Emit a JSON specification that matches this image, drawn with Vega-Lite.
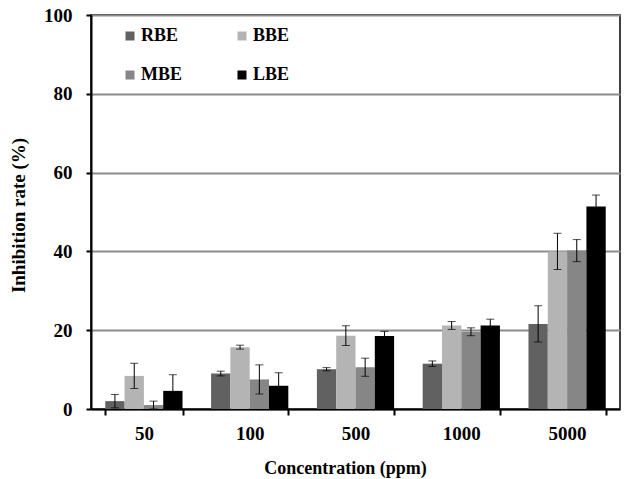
{
  "$schema": "https://vega.github.io/schema/vega-lite/v6.json",
  "autosize": {"type": "none"},
  "width": 529,
  "height": 394,
  "padding": {"left": 91, "top": 15, "right": 6, "bottom": 70},
  "background": "white",
  "data": {
    "values": [
      {"conc": "50", "extract": "RBE", "value": 2.0, "err": 1.7},
      {"conc": "50", "extract": "BBE", "value": 8.4, "err": 3.2},
      {"conc": "50", "extract": "MBE", "value": 1.0, "err": 1.0},
      {"conc": "50", "extract": "LBE", "value": 4.6, "err": 4.1},
      {"conc": "100", "extract": "RBE", "value": 9.0, "err": 0.6},
      {"conc": "100", "extract": "BBE", "value": 15.7, "err": 0.5},
      {"conc": "100", "extract": "MBE", "value": 7.5, "err": 3.7},
      {"conc": "100", "extract": "LBE", "value": 5.9, "err": 3.3},
      {"conc": "500", "extract": "RBE", "value": 10.1, "err": 0.4},
      {"conc": "500", "extract": "BBE", "value": 18.6, "err": 2.5},
      {"conc": "500", "extract": "MBE", "value": 10.6, "err": 2.3},
      {"conc": "500", "extract": "LBE", "value": 18.5, "err": 1.2},
      {"conc": "1000", "extract": "RBE", "value": 11.5, "err": 0.7},
      {"conc": "1000", "extract": "BBE", "value": 21.2, "err": 1.0},
      {"conc": "1000", "extract": "MBE", "value": 19.6, "err": 1.0},
      {"conc": "1000", "extract": "LBE", "value": 21.2, "err": 1.6},
      {"conc": "5000", "extract": "RBE", "value": 21.6, "err": 4.6},
      {"conc": "5000", "extract": "BBE", "value": 40.0, "err": 4.6},
      {"conc": "5000", "extract": "MBE", "value": 40.2, "err": 2.8},
      {"conc": "5000", "extract": "LBE", "value": 51.4, "err": 2.9}
    ]
  },
  "encoding": {
    "x": {
      "field": "conc", "type": "nominal",
      "sort": ["50", "100", "500", "1000", "5000"],
      "scale": {"paddingInner": 0.27, "paddingOuter": 0.135},
      "axis": {
        "title": "Concentration (ppm)",
        "labelAngle": 0,
        "tickBand": "extent",
        "tickSize": 6,
        "tickWidth": 2,
        "tickColor": "black",
        "domainColor": "black",
        "domainWidth": 2,
        "labelPadding": 9,
        "titleBaseline": "alphabetic",
        "titleFontSize": 18,
        "titleX": 254,
        "titleY": 64
      }
    },
    "xOffset": {
      "field": "extract", "type": "nominal",
      "sort": ["RBE", "BBE", "MBE", "LBE"],
      "scale": {"paddingInner": 0, "paddingOuter": 0}
    }
  },
  "layer": [
    {
      "mark": {"type": "bar"},
      "encoding": {
        "y": {
          "field": "value", "type": "quantitative",
          "title": "Inhibition rate (%)",
          "scale": {"domain": [0, 100], "nice": false},
          "axis": {
            "values": [0, 20, 40, 60, 80, 100],
            "grid": true,
            "gridColor": "#8c8c8c",
            "gridWidth": 2,
            "tickSize": 5,
            "tickWidth": 2,
            "tickColor": "black",
            "domainColor": "black",
            "domainWidth": 2,
            "labelPadding": 14,
            "titleX": -63,
            "titleY": 200
          }
        },
        "color": {
          "field": "extract", "type": "nominal",
          "sort": ["RBE", "BBE", "MBE", "LBE"],
          "scale": {"domain": ["RBE", "BBE", "MBE", "LBE"], "range": ["#616161", "#b4b4b4", "#868686", "#000000"]},
          "legend": {
            "title": null,
            "orient": "none",
            "direction": "horizontal",
            "legendX": 30,
            "legendY": 12,
            "columns": 2,
            "columnPadding": 50,
            "rowPadding": 21,
            "symbolType": "square",
            "symbolSize": 81,
            "symbolStrokeWidth": 0,
            "labelFontSize": 18,
            "labelFontWeight": "bold",
            "labelFont": "Liberation Serif",
            "labelColor": "black",
            "labelOffset": 2
          }
        }
      }
    },
    {
      "mark": {"type": "errorbar", "ticks": {"size": 8, "color": "black", "thickness": 1}, "rule": {"color": "black", "strokeWidth": 1}},
      "encoding": {
        "y": {"field": "value", "type": "quantitative", "title": "Inhibition rate (%)"},
        "yError": {"field": "err"}
      }
    }
  ],
  "config": {
    "font": "Liberation Serif",
    "view": {"stroke": "black", "strokeWidth": 1.5},
    "axis": {
      "labelFont": "Liberation Serif",
      "labelFontSize": 19,
      "labelFontWeight": "bold",
      "labelColor": "black",
      "titleFont": "Liberation Serif",
      "titleFontSize": 19,
      "titleFontWeight": "bold",
      "titleColor": "black"
    }
  }
}
